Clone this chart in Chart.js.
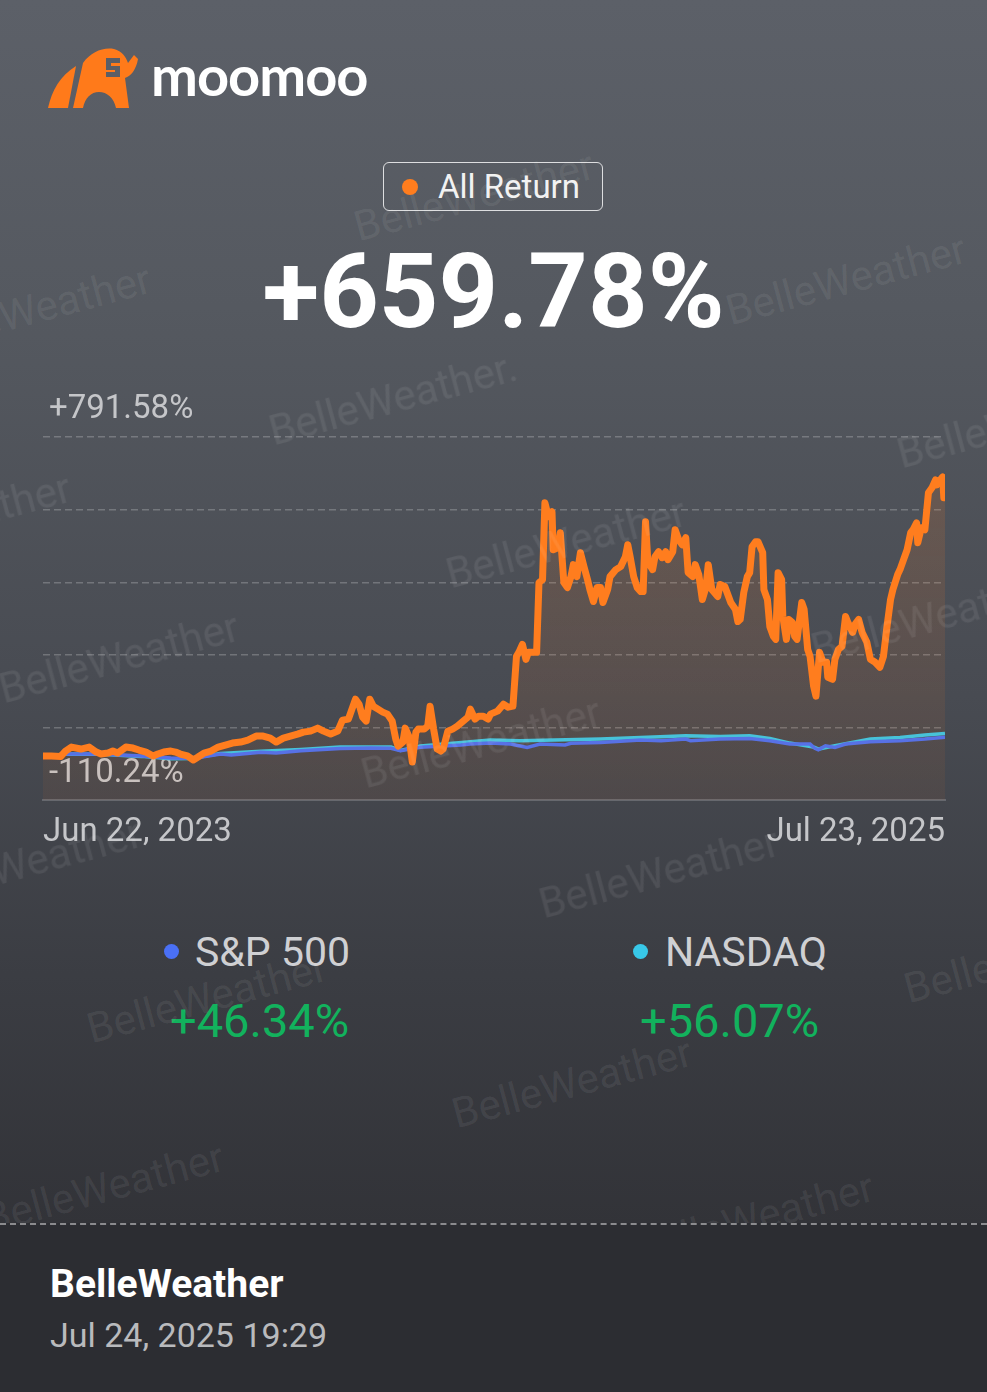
<!DOCTYPE html>
<html>
<head>
<meta charset="utf-8">
<script src="https://cdn.jsdelivr.net/npm/chart.js@4.4.1/dist/chart.umd.min.js"></script>
<style>
html, body { margin: 0; padding: 0; }
body {
  width: 987px; height: 1392px; position: relative; overflow: hidden;
  font-family: Roboto, "Noto Sans", sans-serif;
  background: linear-gradient(180deg, #5c6068 0%, #555960 22%, #484b52 50%, #3b3d43 70%, #323338 88%);
}
.abs { position: absolute; white-space: nowrap; line-height: 1; }
#chartBox { position: absolute; left: 0; top: 380px; width: 987px; height: 494px; }
.wm {
  position: absolute; font-size: 42px; line-height: 42px; white-space: nowrap;
  color: rgba(255,255,255,0.075); transform-origin: 0 50%; transform: rotate(-15deg);
  z-index: 3; pointer-events: none;
}
#footer {
  position: absolute; left: 0; top: 1223px; width: 987px; height: 169px;
  background: #2c2d32; border-top: 2px dashed rgba(255,255,255,0.45); z-index: 4;
}
.dot { position: absolute; border-radius: 50%; }
</style>
</head>
<body>

<svg class="abs" style="left:48px;top:46px;" width="92" height="64" viewBox="0 0 92 64">
  <path d="M0 62 C4 44 12 30 28 20 L20 62 Z" fill="#ff7a1a"/>
  <path d="M25 62 L35 17 C43 6 55 1 66 3 C74 5 78 11 80 17 L86 9 L90 13 C88 24 83 30 77 32 L81 62 L68 62 C66 52 59 46 51 46 C43 46 37 52 35 62 Z" fill="#ff7a1a"/>
  <path d="M58 12 L72 12 L72 17 L63 17 L63 20 L72 20 L72 31 L58 31 L58 26 L67 26 L67 24 L58 24 Z" fill="#5a5e66"/>
</svg>
<div class="abs" style="left:151px;top:47px;font-family:Lato,Roboto,sans-serif;font-weight:700;font-size:56px;color:#ffffff;letter-spacing:-1px;">moomoo</div>

<div class="abs" style="left:383px;top:162px;width:218px;height:47px;border:1.5px solid rgba(255,255,255,0.8);border-radius:6px;"></div>
<div class="dot" style="left:402px;top:179px;width:16px;height:16px;background:#ff7d1e;"></div>
<div class="abs" style="left:438px;top:170px;font-size:33px;color:#f2f2f2;">All Return</div>

<div class="abs" style="left:0;width:987px;text-align:center;top:240px;font-size:104px;font-weight:700;color:#ffffff;">+659.78%</div>

<div id="chartBox"><canvas id="returnChart"></canvas></div>

<div class="dot" style="left:164px;top:944px;width:15px;height:15px;background:#4a70f5;"></div>
<div class="abs" style="left:195px;top:932px;font-size:41px;color:#cfd0d3;">S&amp;P 500</div>
<div class="abs" style="left:170px;top:997px;font-size:47px;color:#12b25d;">+46.34%</div>

<div class="dot" style="left:633px;top:944px;width:15px;height:15px;background:#38c8e8;"></div>
<div class="abs" style="left:665px;top:932px;font-size:41px;color:#cfd0d3;">NASDAQ</div>
<div class="abs" style="left:640px;top:997px;font-size:47px;color:#12b25d;">+56.07%</div>

<div class="wm" style="left:-88px;top:321px;">BelleWeather</div>
<div class="wm" style="left:727px;top:291px;">BelleWeather</div>
<div class="wm" style="left:355px;top:207px;">BelleWeather</div>
<div class="wm" style="left:270px;top:411px;">BelleWeather.</div>
<div class="wm" style="left:898px;top:434px;">BelleWeather</div>
<div class="wm" style="left:-168px;top:530px;">BelleWeather</div>
<div class="wm" style="left:447px;top:554px;">BelleWeather</div>
<div class="wm" style="left:0px;top:669px;">BelleWeather</div>
<div class="wm" style="left:812px;top:629px;">BelleWeather</div>
<div class="wm" style="left:362px;top:754px;">BelleWeather</div>
<div class="wm" style="left:-97px;top:875px;">BelleWeather</div>
<div class="wm" style="left:540px;top:884px;">BelleWeather</div>
<div class="wm" style="left:905px;top:969px;">BelleWeather</div>
<div class="wm" style="left:88px;top:1009px;">BelleWeather</div>
<div class="wm" style="left:453px;top:1094px;">BelleWeather</div>
<div class="wm" style="left:-15px;top:1199px;">BelleWeather</div>
<div class="wm" style="left:635px;top:1229px;">BelleWeather</div>

<div id="footer">
  <div class="abs" style="left:50px;top:40px;font-size:39px;font-weight:700;color:#ffffff;">BelleWeather</div>
  <div class="abs" style="left:50px;top:93px;font-size:34px;color:#b9babd;">Jul 24, 2025 19:29</div>
</div>

<script>
// days since Jun 22, 2023 and cumulative return in %
var retDays = [0,7,15,19,24,32,39,45,49,55,59,63,70,76,81,87,93,97,102,108,
  112,116,122,127,131,136,142,148,154,160,167,173,180,186,192,197,203,209,215,220,
  226,232,237,243,249,253,258,264,267,270,273,276,279,283,287,291,295,298,300,304,
  306,309,312,315,317,322,325,327,330,333,336,338,342,346,350,354,359,361,365,368,
  372,376,378,384,389,393,397,400,402,405,408,410,414,417,419,422,424,427,430,431,
  435,437,440,443,446,448,451,454,457,460,462,465,468,471,473,477,479,484,488,492,
  494,496,499,502,505,507,509,511,515,517,520,523,526,528,532,534,537,540,543,545,
  549,551,554,557,560,562,565,570,572,576,581,585,587,589,592,595,597,599,602,604,
  608,609,612,614,617,619,621,624,625,628,630,633,635,637,641,643,646,648,651,653,
  656,659,662,663,667,669,672,675,678,680,684,686,689,692,696,699,703,707,710,713,
  716,718,722,724,727,730,733,735,738,739,742,745,748,751,754,755,758,760,761,762];
var retValues = [0,0,-1,12.2,22.1,17.2,22.1,9.7,4.8,7.3,12.2,7.3,22.1,19.6,14.7,9.7,0,4.8,9.7,12.2,
  9.7,4.8,0,-10,-2.6,7.3,12.2,22.1,27.1,32,34.5,39.4,49.3,49.3,44.4,34.5,44.4,49.3,54.3,59.2,
  61.7,69.1,61.7,54.3,61.7,88.9,91.4,140.9,128.5,96.3,86.4,140.9,123.6,116.2,108.8,103.8,86.4,41.9,24.6,34.5,
  69.1,49.3,-15,59.2,66.7,66.7,74.1,123.6,66.7,17.2,12.2,17.2,61.7,66.7,74.1,84,96.3,116.2,91.4,98.8,
  98.8,91.4,103.8,111.3,128.5,121.1,123.6,247.3,257.2,276.9,239.8,257.2,257.2,257.2,430.3,437.7,628.3,593.6,606,512,
  516.9,554,430.3,417.9,445.1,474.8,445.1,504.5,469.9,437.7,413,383.3,417.9,417.9,380.8,413,445.1,462.5,469.9,494.6,
  524.3,494.6,445.1,417.9,408,408,581.2,482.3,462.5,494.6,507,492.2,507,487.2,507,561.4,536.7,524.3,541.6,455,
  445.1,474.8,450.1,388.2,417.9,474.8,413,395.7,425.4,420.5,380.8,363.5,333.8,338.8,405.6,445.1,455,519.3,531.7,531.7,
  504.5,413,388.2,321.4,296.7,289.3,455,437.7,346.2,289.3,338.8,331.4,296.7,289.3,380.8,363.5,264.5,247.3,173,148.3,
  257.2,232.5,232.5,195.4,190.4,239.8,264.5,271.9,346.2,331.4,306.7,326.5,338.8,306.7,282,239.8,232.5,220.1,247.3,321.4,
  388.2,413,450.1,462.5,487.2,511.9,554,561.4,578.7,529.3,566.4,561.4,653,665.4,685.2,672.8,685.2,692.6,640.7,659.78];

var spDays = [0,21,49,83,100,108,125,133,150,159,184,197,218,251,277,294,302,319,353,361,
  378,395,409,420,441,446,471,505,522,543,547,572,597,614,631,648,652,655,661,669,
  678,699,724,745,762];
var spValues = [0,4.8,4.8,0,-3.4,-5.1,-5.9,-3.4,4.8,2.3,9,7.3,13,18.4,19.6,18.9,13,21.4,27.1,29.5,
  32,29.5,21.4,29.5,27.1,31.3,33.7,39.4,37.8,41.9,37.8,41.9,43.6,37.8,29.5,29.5,18.9,15.4,25.3,21.4,
  29.5,35.2,37.8,41.9,46.34];

var ndDays = [0,21,49,83,108,125,150,184,218,251,294,302,319,361,378,403,471,505,543,572,
  597,614,631,652,655,669,699,724,745,762];
var ndValues = [0,5,4,-1,-7,-6,6,12,16,22,22,14,25,35.2,39.4,37.8,41.9,46.1,50.1,48.6,
  50.1,43.6,32,21.4,17.2,25.3,41.9,46.1,51.8,56.07];

var xTickLabels = ['Jun 22, 2023', 'Jul 23, 2025'];
var yTickLabels = ['-110.24%', '+791.58%'];
var yMin = -110.24;
var yMax = 791.58;
var lastDay = 762;

function toPoints(days, values) {
  return days.map(function (d, i) { return { x: d, y: values[i] }; });
}

var ctx = document.getElementById('returnChart').getContext('2d');

var chart = new Chart(ctx, {
  type: 'line',
  data: {
    datasets: [
      {
        label: 'All Return',
        data: toPoints(retDays, retValues),
        borderColor: '#ff7d1e',
        borderWidth: 7,
        borderJoinStyle: 'round',
        borderCapStyle: 'round',
        pointRadius: 0,
        tension: 0,
        fill: 'start',
        backgroundColor: function (c) {
          var area = c.chart.chartArea;
          if (!area) return 'rgba(255,125,35,0.1)';
          var g = c.chart.ctx.createLinearGradient(0, area.top, 0, area.bottom);
          g.addColorStop(0, 'rgba(255,125,35,0.16)');
          g.addColorStop(1, 'rgba(255,125,35,0.06)');
          return g;
        }
      },
      {
        label: 'S&P 500',
        data: toPoints(spDays, spValues),
        borderColor: '#4a70f5',
        borderWidth: 3.5,
        pointRadius: 0,
        tension: 0,
        fill: false
      },
      {
        label: 'NASDAQ',
        data: toPoints(ndDays, ndValues),
        borderColor: '#38c8e8',
        borderWidth: 3.5,
        pointRadius: 0,
        tension: 0,
        fill: false
      }
    ]
  },
  options: {
    responsive: true,
    maintainAspectRatio: false,
    animation: false,
    layout: { padding: { left: 31, right: 42, top: 57, bottom: 9 } },
    plugins: {
      legend: { display: false },
      tooltip: { enabled: false }
    },
    scales: {
      x: {
        type: 'linear',
        min: 0,
        max: lastDay,
        grid: { display: false, drawTicks: false },
        border: { display: true, color: '#65686f', width: 2 },
        afterBuildTicks: function (s) { s.ticks = [{ value: 0 }, { value: lastDay }]; },
        ticks: {
          autoSkip: false,
          maxRotation: 0,
          align: 'inner',
          padding: 12.5,
          color: '#c5c6c9',
          font: { family: 'Roboto', size: 33 },
          callback: function (v, i) { return xTickLabels[i]; }
        }
      },
      y: {
        min: yMin,
        max: yMax,
        grid: {
          drawTicks: false,
          lineWidth: 1.5,
          color: function (c) { return c.index === 0 ? 'rgba(0,0,0,0)' : 'rgba(255,255,255,0.22)'; }
        },
        border: { display: false, dash: [7, 4] },
        afterBuildTicks: function (s) {
          var step = (yMax - yMin) / 5;
          s.ticks = [0, 1, 2, 3, 4, 5].map(function (i) { return { value: yMin + step * i }; });
        },
        ticks: {
          mirror: true,
          padding: 6,
          labelOffset: -27,
          color: '#c5c6c9',
          font: { family: 'Roboto', size: 33 },
          callback: function (v, i) {
            if (i === 0) return yTickLabels[0];
            if (i === 5) return yTickLabels[1];
            return '';
          }
        }
      }
    }
  }
});
</script>
</body>
</html>
